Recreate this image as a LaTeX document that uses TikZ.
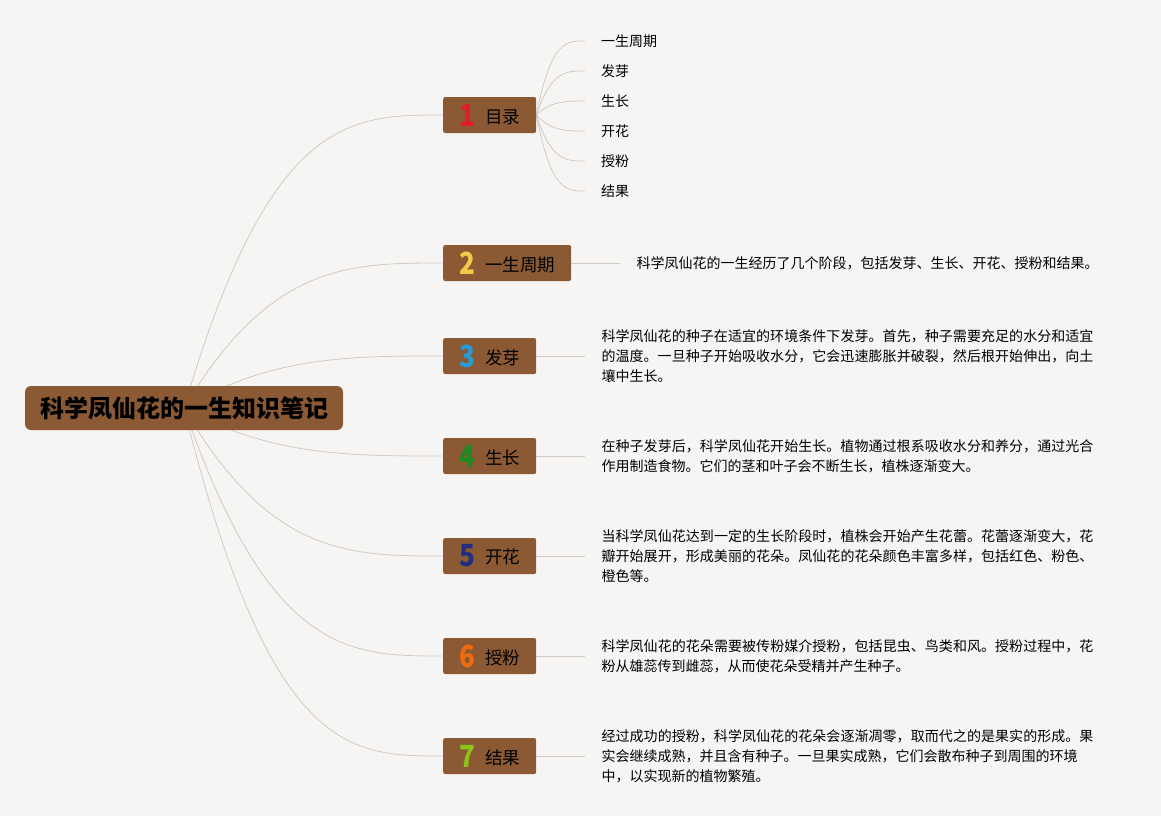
\documentclass[tikz,border=0pt]{standalone}
\usepackage{fontspec}
\setmainfont{Noto Sans CJK SC}
\usetikzlibrary{positioning,calc,backgrounds}
\XeTeXlinebreaklocale "zh"
\XeTeXlinebreakskip=0pt plus 1pt
\setlength{\parindent}{0pt}

\definecolor{bgpaper}{RGB}{247,245,243}
\definecolor{boxbrown}{RGB}{139,90,52}
\definecolor{linegray}{RGB}{206,202,198}
\definecolor{numA}{RGB}{226,28,44}
\definecolor{numB}{RGB}{245,200,74}
\definecolor{numC}{RGB}{40,154,214}
\definecolor{numD}{RGB}{30,138,34}
\definecolor{numE}{RGB}{36,46,126}
\definecolor{numF}{RGB}{240,106,16}
\definecolor{numG}{RGB}{140,194,26}

\tikzset{
  roottopic/.style={fill=boxbrown, rounded corners=6pt, minimum width=318pt,
    minimum height=44pt, font=\fontsize{24}{28}\selectfont\bfseries},
  topic/.style={fill=boxbrown, rounded corners=2pt, minimum height=36pt,
    inner xsep=16pt, inner ysep=0pt, anchor=west,
    font=\fontsize{17.5}{20}\selectfont},
  leaf/.style={inner xsep=16pt, anchor=west, font=\fontsize{14}{20}\selectfont},
  note/.style={align=justify, text width=492pt, inner xsep=16pt, inner ysep=0pt,
    font=\fontsize{14}{20}\selectfont},
  branch/.style={draw=linegray, line width=0.8pt},
}
% 编号 + 标题
\newcommand{\topiclabel}[3]{%
  \raisebox{-1.5pt}{\scalebox{0.9}[1.05]{\fontsize{29}{29}\selectfont\bfseries\color{#1}#2}}%
  \hspace{10pt}\raisebox{1.5pt}{#3}}

\begin{document}
\begin{tikzpicture}[x=1pt, y=-1pt]
  \useasboundingbox (0,0) rectangle (1161,816);

  % 中心主题
  \node[roottopic] (root) at (184,408) {科学凤仙花的一生知识笔记};

  % 分支主题
  \node[topic] (b1) at (443,115) {\topiclabel{numA}{1}{目录}};
  \node[topic] (b2) at (443,263) {\topiclabel{numB}{2}{一生周期}};
  \node[topic] (b3) at (443,356) {\topiclabel{numC}{3}{发芽}};
  \node[topic] (b4) at (443,456) {\topiclabel{numD}{4}{生长}};
  \node[topic] (b5) at (443,556) {\topiclabel{numE}{5}{开花}};
  \node[topic] (b6) at (443,656) {\topiclabel{numF}{6}{授粉}};
  \node[topic] (b7) at (443,756) {\topiclabel{numG}{7}{结果}};

  % 目录下的子主题
  \node[leaf] (l1) at (585,41) {一生周期};
  \node[leaf] (l2) at (585,71) {发芽};
  \node[leaf] (l3) at (585,101) {生长};
  \node[leaf] (l4) at (585,131) {开花};
  \node[leaf] (l5) at (585,161) {授粉};
  \node[leaf] (l6) at (585,191) {结果};

  % 各阶段的说明文字
  \node[note, right=49pt of b2] (t2) {科学凤仙花的一生经历了几个阶段，包括发芽、生长、开花、授粉和结果。};
  \node[note, right=49pt of b3] (t3) {科学凤仙花的种子在适宜的环境条件下发芽。首先，种子需要充足的水分和适宜\linebreak
    的温度。一旦种子开始吸收水分，它会迅速膨胀并破裂，然后根开始伸出，向土\linebreak
    壤中生长。};
  \node[note, right=49pt of b4] (t4) {在种子发芽后，科学凤仙花开始生长。植物通过根系吸收水分和养分，通过光合\linebreak
    作用制造食物。它们的茎和叶子会不断生长，植株逐渐变大。};
  \node[note, right=49pt of b5] (t5) {当科学凤仙花达到一定的生长阶段时，植株会开始产生花蕾。花蕾逐渐变大，花\linebreak
    瓣开始展开，形成美丽的花朵。凤仙花的花朵颜色丰富多样，包括红色、粉色、\linebreak
    橙色等。};
  \node[note, right=49pt of b6] (t6) {科学凤仙花的花朵需要被传粉媒介授粉，包括昆虫、鸟类和风。授粉过程中，花\linebreak
    粉从雄蕊传到雌蕊，从而使花朵受精并产生种子。};
  \node[note, right=49pt of b7] (t7) {经过成功的授粉，科学凤仙花的花朵会逐渐凋零，取而代之的是果实的形成。果\linebreak
    实会继续成熟，并且含有种子。一旦果实成熟，它们会散布种子到周围的环境\\
    中，以实现新的植物繁殖。};

  % 连线放在背景层
  \begin{scope}[on background layer]
    \fill[bgpaper] (0,0) rectangle (1161,816);
    \foreach \i in {1,...,7}
      \draw[branch] (root.center) .. controls ($(root.center |- b\i.west)+(86,0)$)
        and ($(root.center |- b\i.west)+(166,0)$) .. (b\i.west);
    \foreach \i in {1,...,6}
      \draw[branch] (b1.east) .. controls ($(b1.east |- l\i.west)+(15,0)$)
        and ($(b1.east |- l\i.west)+(29,0)$) .. (l\i.west);
    \foreach \i in {2,...,7}
      \draw[branch] (b\i.east) -- (t\i.west);
  \end{scope}
\end{tikzpicture}
\end{document}
